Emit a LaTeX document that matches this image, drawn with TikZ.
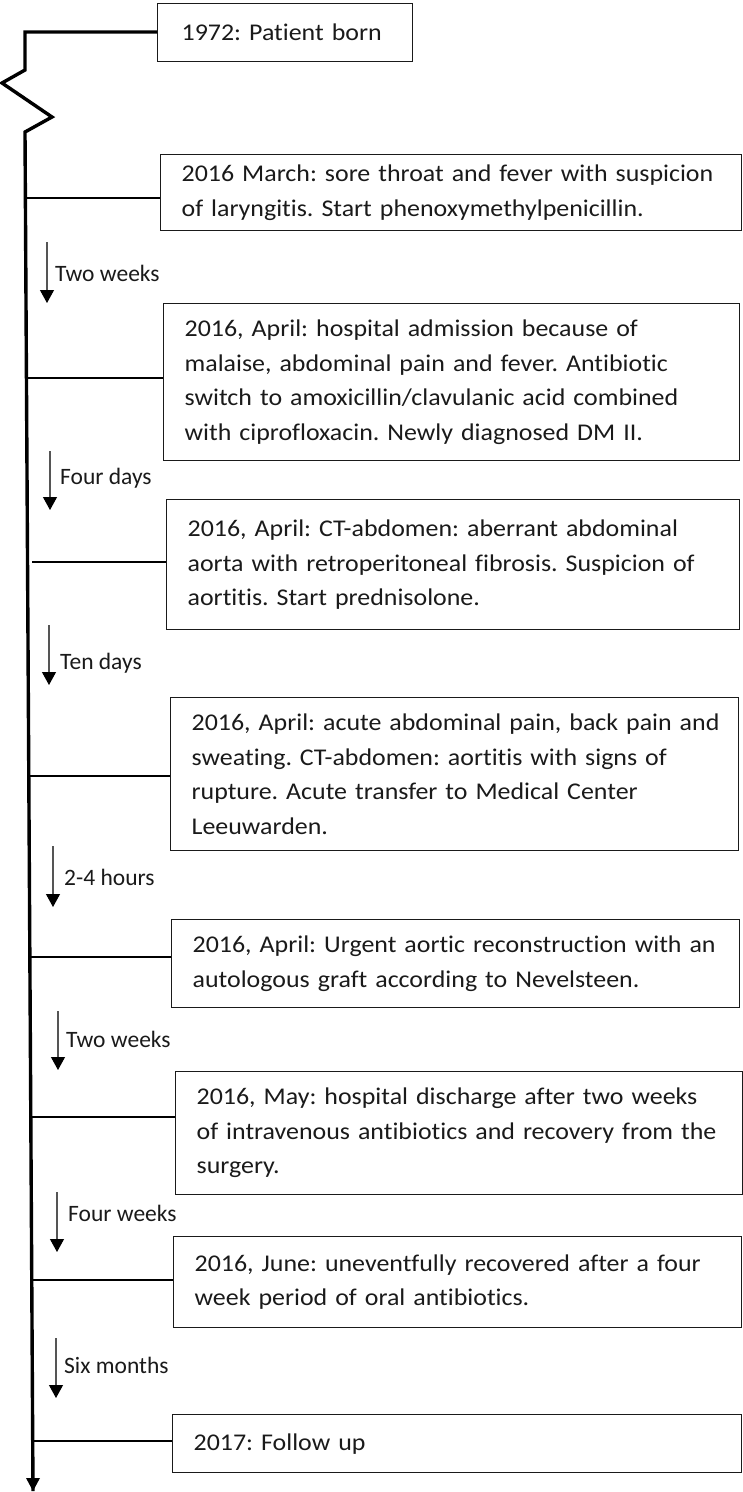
\documentclass[tikz,border=0pt]{standalone}
\usepackage{fontspec}
\setmainfont{Carlito}[Ligatures=NoCommon]
\newfontfamily\boxfont{Carlito}[FakeStretch=1.08, Ligatures=NoCommon]
\usetikzlibrary{arrows.meta,calc}
\definecolor{ink}{HTML}{1A1A1A}
\definecolor{shaft}{HTML}{555555}
\tikzset{
  evbox/.style={draw=ink, line width=1.3pt, rectangle, anchor=north west,
    inner xsep=20pt, inner ysep=0pt, align=left, text=ink,
    font=\boxfont\frenchspacing\fontsize{24}{34.5}\selectfont},
  mainline/.style={draw=black, line width=3.4pt},
  conn/.style={draw=black, line width=2.4pt},
  gaparrow/.style={draw=shaft, line width=1.1pt, -{Triangle[width=14pt,length=13pt,fill=black,color=black]}},
  gaplabel/.style={anchor=west, inner sep=0pt, text=ink, font=\fontsize{23.5}{28}\selectfont},
}
\begin{document}
\begin{tikzpicture}[x=1pt,y=-1pt]
\useasboundingbox (0,0) rectangle (743,1492);
% boxes
\node[evbox, minimum width=253pt, minimum height=58pt, text width=207pt, inner xsep=24pt] (b1) at (157,3) {1972: Patient born};
\node[evbox, minimum width=581pt, minimum height=76pt, text width=539pt] (b2) at (160,154) {\mbox{2016 March: sore throat and fever with suspicion}\\of laryngitis. Start phenoxymethylpenicillin.};
\node[evbox, minimum width=576pt, minimum height=157pt, text width=534pt] (b3) at (163,303) {2016, April: hospital admission because of\\malaise, abdominal pain and fever. Antibiotic\\switch to amoxicillin/clavulanic acid combined\\with ciprofloxacin. Newly diagnosed DM II.};
\node[evbox, minimum width=573pt, minimum height=130pt, text width=531pt] (b4) at (166,499) {2016, April: CT-abdomen: aberrant abdominal\\aorta with retroperitoneal fibrosis. Suspicion of\\aortitis. Start prednisolone.};
\node[evbox, minimum width=568pt, minimum height=153pt, text width=526pt] (b5) at (170,697) {\mbox{2016, April: acute abdominal pain, back pain and}\\sweating. CT-abdomen: aortitis with signs of\\rupture. Acute transfer to Medical Center\\Leeuwarden.};
\node[evbox, minimum width=568pt, minimum height=88pt, text width=526pt] (b6) at (171,919) {\mbox{2016, April: Urgent aortic reconstruction with an}\\autologous graft according to Nevelsteen.};
\node[evbox, minimum width=567pt, minimum height=123pt, text width=525pt] (b7) at (175,1071) {2016, May: hospital discharge after two weeks\\\mbox{of intravenous antibiotics and recovery from the}\\surgery.};
\node[evbox, minimum width=568pt, minimum height=91pt, text width=526pt] (b8) at (173,1236) {2016, June: uneventfully recovered after a four\\week period of oral antibiotics.};
\node[evbox, minimum width=569pt, minimum height=58pt, text width=527pt] (b9) at (172,1414) {2017: Follow up};
% main timeline
\coordinate (t0) at (25,32);
\coordinate (z1) at (25,70);
\coordinate (z2) at (2,83);
\coordinate (z3) at (52,117);
\coordinate (z4) at (25,132);
\coordinate (tend) at (33,1491);
\draw[mainline, line join=miter] (t0 -| b1.west) -- (t0) -- (z1) -- (z2) -- (z3) -- (z4) -- (tend);
\fill[black] (tend) -- ++(-7,-13) -- ++(14,0) -- cycle;
% connectors
\coordinate (c2) at (25.4,198);
\coordinate (c3) at (26.4,378);
\coordinate (c4) at (32,562);
\coordinate (c5) at (28.8,776);
\coordinate (c6) at (29.9,957);
\coordinate (c7) at (30.8,1117);
\coordinate (c8) at (31.8,1280);
\coordinate (c9) at (32.7,1441);
\draw[conn] (c2) -- (c2 -| b2.west);
\draw[conn] (c3) -- (c3 -| b3.west);
\draw[conn] (c4) -- (c4 -| b4.west);
\draw[conn] (c5) -- (c5 -| b5.west);
\draw[conn] (c6) -- (c6 -| b6.west);
\draw[conn] (c7) -- (c7 -| b7.west);
\draw[conn] (c8) -- (c8 -| b8.west);
\draw[conn] (c9) -- (c9 -| b9.west);
% interval arrows
\coordinate (a1s) at (47,242); \coordinate (a1e) at (47,303);
\coordinate (a2s) at (50,451); \coordinate (a2e) at (50,510);
\coordinate (a3s) at (49,625); \coordinate (a3e) at (49,685);
\coordinate (a4s) at (53,846); \coordinate (a4e) at (53,907);
\coordinate (a5s) at (58,1011); \coordinate (a5e) at (58,1070);
\coordinate (a6s) at (57,1192); \coordinate (a6e) at (57,1252);
\coordinate (a7s) at (56,1338); \coordinate (a7e) at (56,1398);
\draw[gaparrow] (a1s) -- (a1e);
\draw[gaparrow] (a2s) -- (a2e);
\draw[gaparrow] (a3s) -- (a3e);
\draw[gaparrow] (a4s) -- (a4e);
\draw[gaparrow] (a5s) -- (a5e);
\draw[gaparrow] (a6s) -- (a6e);
\draw[gaparrow] (a7s) -- (a7e);
\node[gaplabel] (l1) at (55,273) {Two weeks};
\node[gaplabel] (l2) at (60,478) {Four days};
\node[gaplabel] (l3) at (60,663) {Ten days};
\node[gaplabel] (l4) at (64,877) {2-4 hours};
\node[gaplabel] (l5) at (66,1039) {Two weeks};
\node[gaplabel] (l6) at (68,1213) {Four weeks};
\node[gaplabel] (l7) at (64,1365) {Six months};
\end{tikzpicture}
\end{document}
